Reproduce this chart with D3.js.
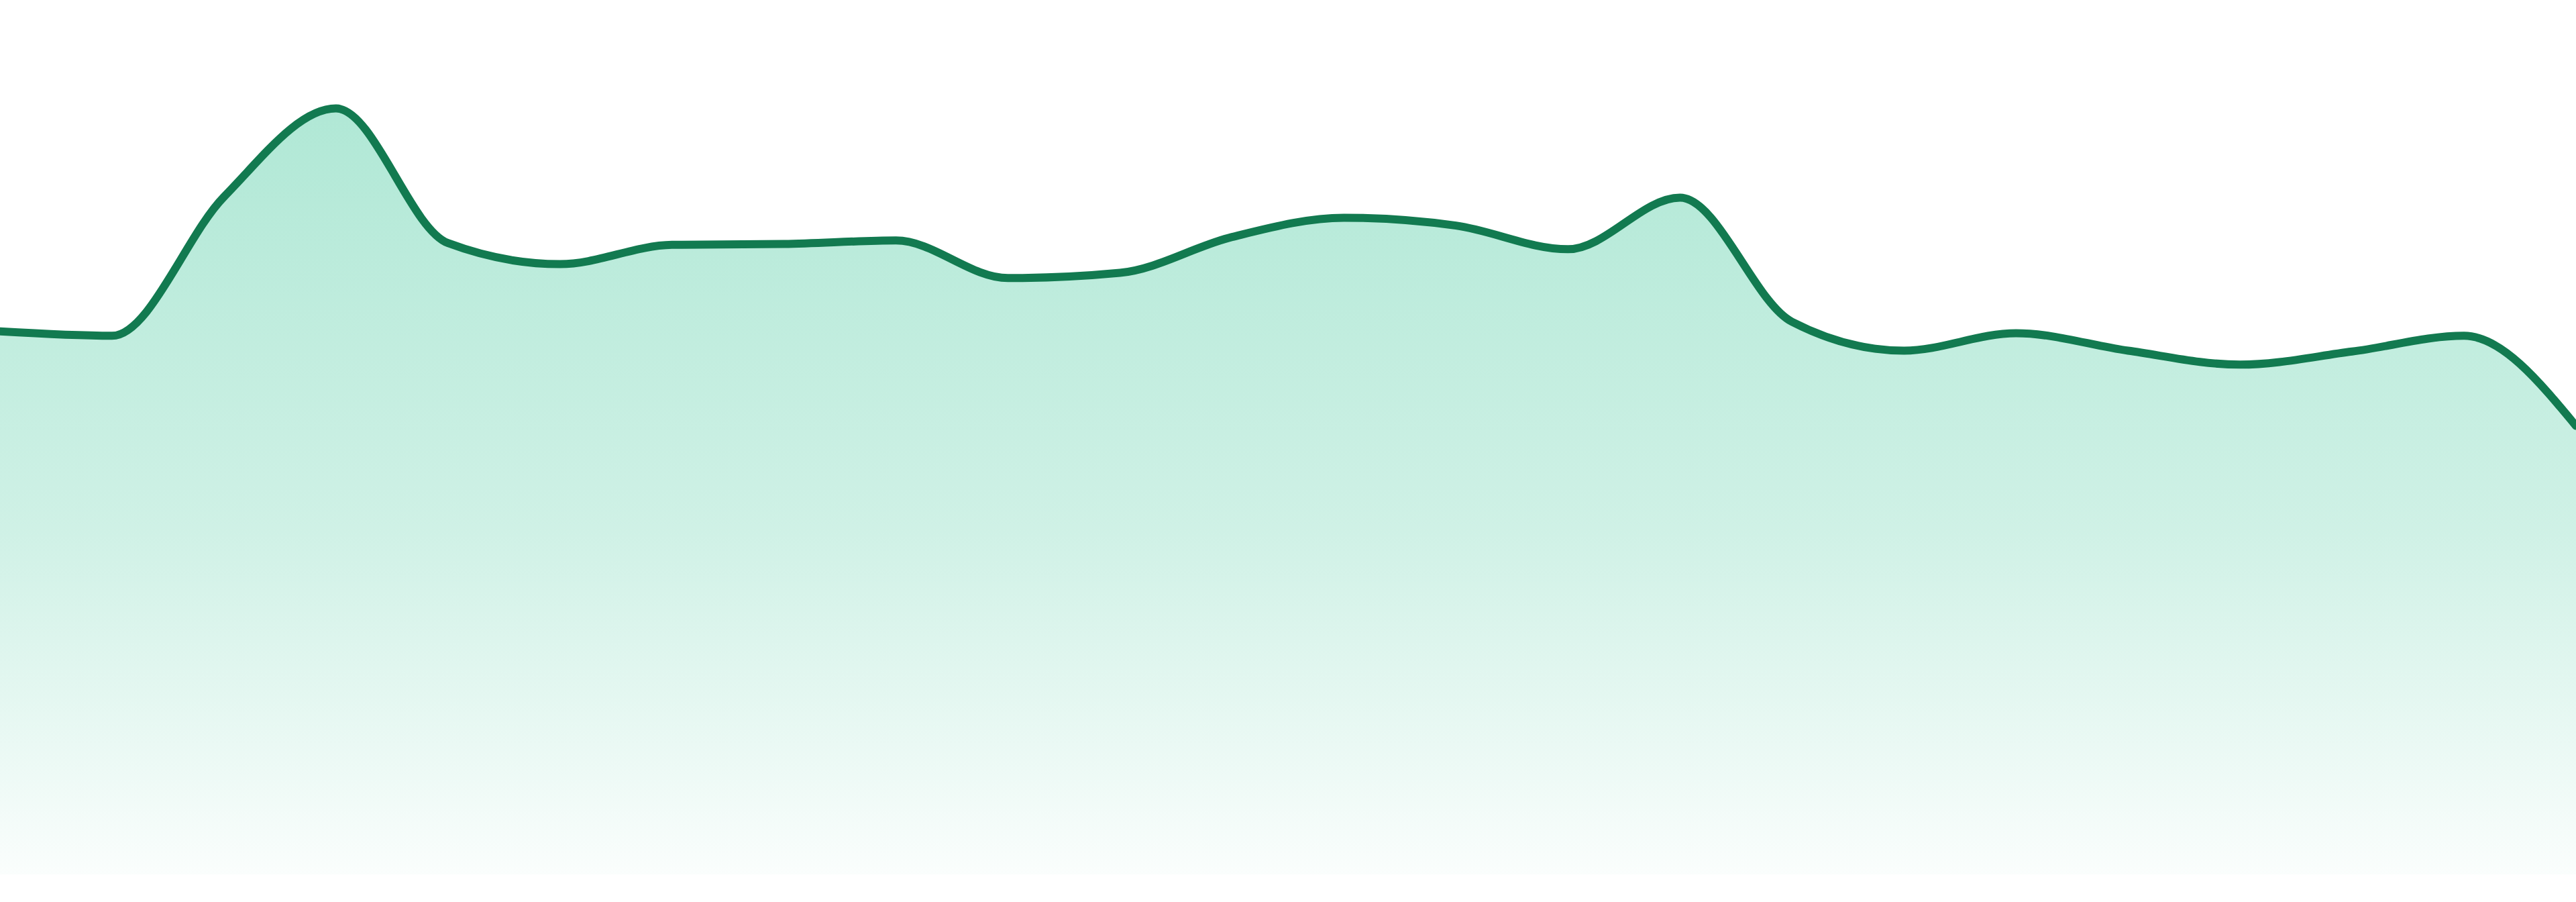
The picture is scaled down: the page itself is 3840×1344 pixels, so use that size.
<!DOCTYPE html>
<html>
<head>
<meta charset="utf-8">
<script src="https://cdn.jsdelivr.net/npm/d3@7"></script>
<style>
html,body{margin:0;padding:0;background:#fff;}
svg{display:block;}
</style>
</head>
<body>
<svg id="chart" width="3840" height="1344"></svg>
<script>
const categories = d3.range(24).map(i => "P" + (i + 1));
const values = [62.1, 61.6, 77.5, 87.6, 72.2, 69.8, 72.0, 72.1, 72.5, 68.2, 68.8, 72.9,
                75.1, 74.2, 71.5, 77.4, 63.2, 59.9, 61.9, 59.9, 58.3, 59.8, 61.6, 51.3];
const yDomain = [0, 100];

const W = 3840, H = 1344;
const margin = {top: 0, right: 0, bottom: 41, left: 0};
const svg = d3.select("#chart");

const x = d3.scalePoint().domain(categories).range([margin.left, W - margin.right]);
const y = d3.scaleLinear().domain(yDomain).range([H - margin.bottom, margin.top]);

const data = categories.map((c, i) => ({c, v: values[i]}));

const defs = svg.append("defs");
const grad = defs.append("linearGradient")
  .attr("id", "fillGrad")
  .attr("gradientUnits", "userSpaceOnUse")
  .attr("x1", 0).attr("x2", 0)
  .attr("y1", y(d3.max(values))).attr("y2", y(0));
grad.append("stop").attr("offset", "0%").attr("stop-color", "#10b981").attr("stop-opacity", 0.33);
grad.append("stop").attr("offset", "55%").attr("stop-color", "#10b981").attr("stop-opacity", 0.2);
grad.append("stop").attr("offset", "100%").attr("stop-color", "#10b981").attr("stop-opacity", 0.02);

const area = d3.area()
  .x(d => x(d.c))
  .y0(y(0))
  .y1(d => y(d.v))
  .curve(d3.curveMonotoneX);

const line = d3.line()
  .x(d => x(d.c))
  .y(d => y(d.v))
  .curve(d3.curveMonotoneX);

svg.append("path").datum(data).attr("d", area).attr("fill", "url(#fillGrad)");
svg.append("path").datum(data).attr("d", line)
  .attr("fill", "none")
  .attr("stroke", "#127a50")
  .attr("stroke-width", 12)
  .attr("stroke-linejoin", "round")
  .attr("stroke-linecap", "round");
</script>
</body>
</html>
